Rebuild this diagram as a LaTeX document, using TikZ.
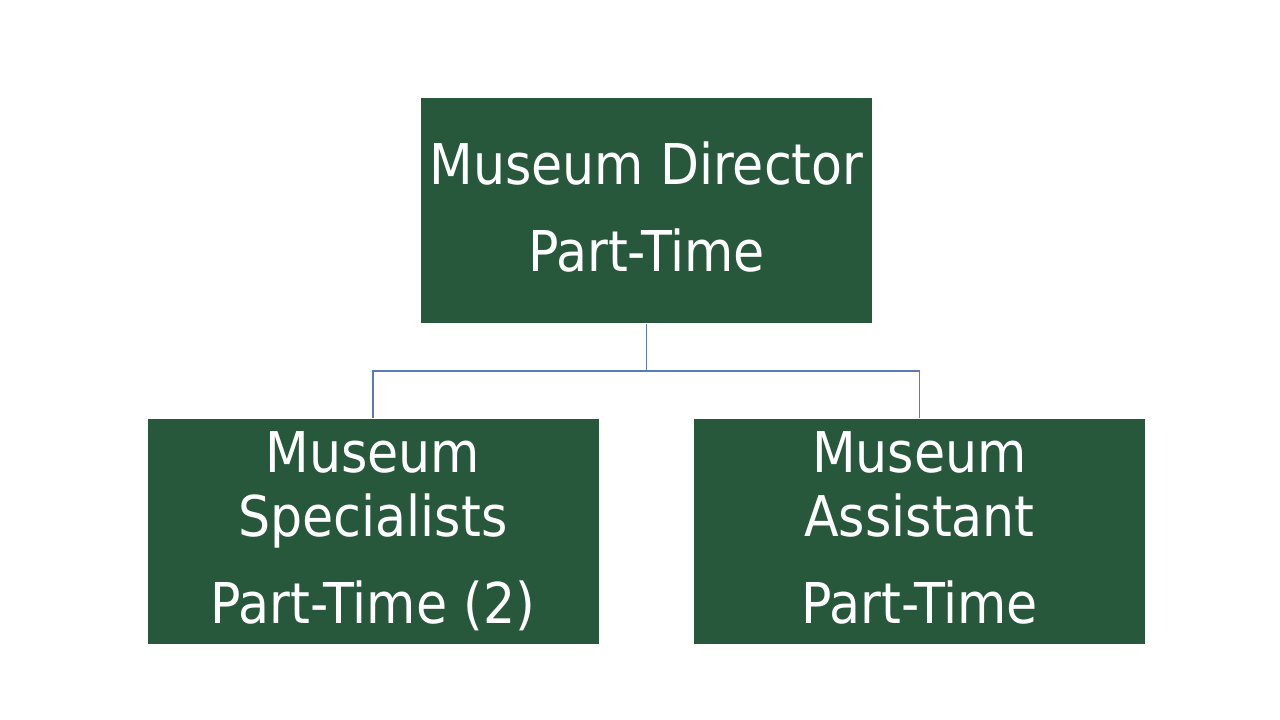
\documentclass[tikz,border=0pt]{standalone}
\usepackage{xcolor}
\usepackage{tikz}
\usepackage{fontspec}
\setmainfont{DejaVu Sans Condensed}
\definecolor{orggreen}{HTML}{27583B}
\definecolor{orgline}{HTML}{5B7BB8}
\tikzset{
  rolebox/.style={fill=orggreen,text=white,align=center,inner sep=0pt,
    minimum width=4.51cm,minimum height=2.25cm,
    font=\fontsize{16pt}{18.2pt}\selectfont},
  link/.style={orgline,line width=0.5pt}
}

\begin{document}
\begin{tikzpicture}[x=1cm,y=1cm]
  \useasboundingbox (0,0) rectangle (12.8,7.2);
  \node[rolebox] (director) at (6.465,5.095) {Museum Director\\[6.5pt]Part-Time\vphantom{()}};
  \node[rolebox] (specialists) at (3.73,1.885) {Museum\\Specialists\\[6.5pt]Part-Time (2)};
  \node[rolebox] (assistant) at (9.195,1.885) {Museum\\Assistant\\[6.5pt]Part-Time\vphantom{()}};
  \coordinate (bus) at (6.465,3.49);
  \draw[link] (director.south) -- (bus) -| (specialists.north);
  \draw[link] (bus) -| (assistant.north);
\end{tikzpicture}
\end{document}
